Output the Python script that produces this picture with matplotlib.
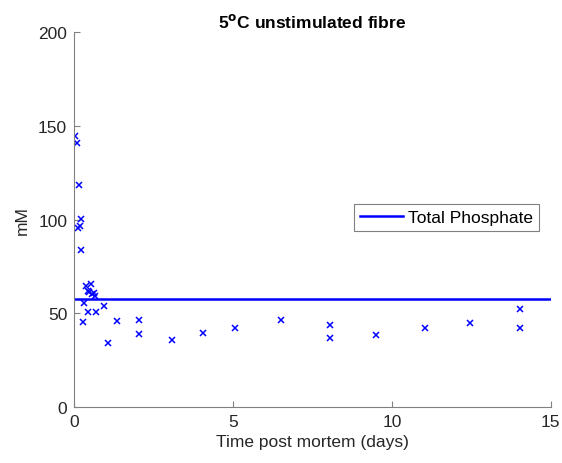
import numpy as np
import matplotlib.pyplot as plt

plt.rcParams['font.family'] = ['Liberation Sans', 'DejaVu Sans']

# data (days, mM)
days = [0.04, 0.09, 0.16, 0.23, 0.11, 0.18, 0.23,
        0.37, 0.52, 0.42, 0.47, 0.55, 0.62, 0.65,
        0.31, 0.45, 0.68, 0.94, 0.28, 1.36, 2.04, 2.04,
        1.08, 3.08, 4.06, 5.07, 6.52, 8.05, 8.05, 9.5,
        11.04, 12.47, 14.04, 14.04]
conc = [144.4, 140.8, 118.4, 100.3, 95.3, 96.4, 83.9,
        64.7, 65.8, 62.0, 61.2, 60.3, 60.8, 59.4,
        55.5, 50.8, 50.8, 53.9, 45.2, 45.9, 46.2, 38.8,
        34.0, 36.0, 39.5, 42.3, 46.6, 43.7, 37.0, 38.4,
        42.0, 44.8, 52.1, 42.3]
total_x = [0.04, 15]
total_phosphate = [57.4, 57.4]

blue = (0, 0, 1)
fs = 12.5

fig = plt.figure(figsize=(5.62, 4.64), dpi=100)
ax = fig.add_axes([0.132, 0.1207, 0.848, 0.808])

ax.plot(days, conc, 'x', color=blue, markersize=5, markeredgewidth=1.1)
ax.plot(total_x, total_phosphate, '-', color=blue, linewidth=1.8, label='Total Phosphate')

ax.set_xlim(0, 15)
ax.set_ylim(0, 200)
ax.set_xticks([0, 5, 10, 15])
ax.set_yticks([0, 50, 100, 150, 200])

for s in ['top', 'right']:
    ax.spines[s].set_visible(False)
for s in ['left', 'bottom']:
    ax.spines[s].set_color('#808080')
    ax.spines[s].set_linewidth(0.8)
ax.tick_params(direction='in', colors='#808080', labelcolor='#262626',
               labelsize=fs, length=4, width=0.8, pad=5)

ax.set_xlabel('Time post mortem (days)', fontsize=fs, color='#262626', labelpad=4)
ax.set_ylabel('mM', fontsize=fs, color='#262626', labelpad=6)
ax.set_title('5$^\\mathbf{o}$C unstimulated fibre', fontsize=fs, fontweight='bold', pad=4)

leg = ax.legend(loc='upper right', bbox_to_anchor=(0.976, 0.542), fontsize=fs,
                fancybox=False, framealpha=1, edgecolor='#808080', handlelength=2.5,
                handletextpad=0.3, borderpad=0.35, borderaxespad=0)
leg.get_frame().set_linewidth(0.8)

fig.savefig('out.png', dpi=100)
